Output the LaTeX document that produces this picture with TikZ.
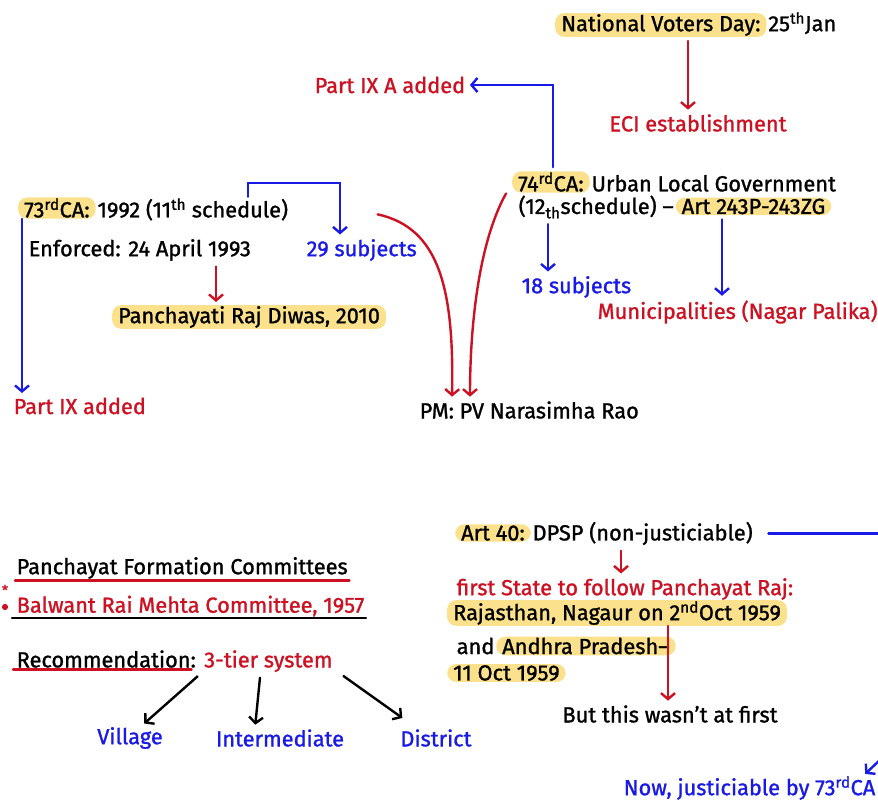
\documentclass[tikz,border=0pt]{standalone}
\usepackage{fontspec}
\setmainfont{Fira Sans}[FakeBold=1.2]
\usetikzlibrary{arrows.meta}

\definecolor{markred}{HTML}{CC1122}
\definecolor{markblue}{HTML}{1A1AE6}
\definecolor{markyellow}{HTML}{FBE18C}
\tikzstyle{note-text}=[inner sep=1.5pt, font=\fontsize{21.8}{24}\selectfont]
\tikzstyle{note-hilite}=[note-text, fill=markyellow, rounded corners=9pt, inner xsep=6pt, inner ysep=1pt]
\tikzstyle{red-line}=[draw=markred, line width=2.4pt, line cap=round]
\tikzstyle{blue-line}=[draw=markblue, line width=2.4pt, line cap=round]
\tikzstyle{black-line}=[draw=black, line width=2.4pt, line cap=round]
\tikzstyle{red-arrow}=[red-line, -{Straight Barb[length=6pt,width=14pt]}, shorten <=4pt, shorten >=3pt]
\tikzstyle{blue-arrow}=[blue-line, -{Straight Barb[length=6pt,width=14pt]}, shorten <=4pt, shorten >=3pt]
\tikzstyle{black-arrow}=[black-line, -{Straight Barb[length=6pt,width=14pt]}, shorten <=4pt, shorten >=3pt]

\begin{document}
\begin{tikzpicture}[x=1pt, y=-1pt]
      \useasboundingbox (0,0) rectangle (878,803);
      \fill[white] (0,0) rectangle (878,803);
      \clip (0,0) rectangle (878,803);

      \node (voters) at (555,25) [note-hilite, anchor=west] {National Voters Day:};
      \node (votersdate) at (voters.base east) [note-text, anchor=base west] {25\textsuperscript{th}Jan};
      \node (eci) at (698,123) [note-text, text=markred] {ECI establishment};
      \coordinate (eciin) at ([xshift=-10pt]eci.north);
      \draw[red-arrow] (eciin |- voters.south) -- (eciin);

      \node (ca74) at (512,182) [note-hilite, anchor=west] {74\textsuperscript{rd}CA:};
      \node (urban) at (ca74.base east) [note-text, anchor=base west] {Urban Local Government};
      \node (sched12) at (517,207) [note-text, anchor=west] {(12\textsubscript{th}schedule) –};
      \node (art243) at (sched12.base east) [note-hilite, anchor=base west] {Art 243P-243ZG};
      \node (part9a) at (313,85) [note-text, anchor=west, text=markred] {Part IX A added};
      \draw[blue-arrow] ([xshift=41pt]ca74.north west) |- (part9a.east);
      \node (subj18) at (520,287) [note-text, anchor=west, text=markblue] {18 subjects};
      \coordinate (subj18in) at ([xshift=28pt]subj18.north west);
      \draw[blue-arrow] (subj18in |- sched12.south) -- (subj18in);
      \node (munic) at (596,312) [note-text, anchor=west, text=markred] {Municipalities (Nagar Palika)};
      \coordinate (municin) at ([xshift=126pt]munic.north west);
      \draw[blue-arrow] (municin |- art243.south) -- (municin);

      \node (ca73) at (18,208) [note-hilite, anchor=west] {73\textsuperscript{rd}CA:};
      \node (year92) at (ca73.base east) [note-text, anchor=base west] {1992 (11\textsuperscript{th} schedule)};
      \node (enforced) at (27,250) [note-text, anchor=west] {Enforced: 24 April 1993};
      \node (subj29) at (305,250) [note-text, anchor=west, text=markblue] {29 subjects};
      \coordinate (subj29in) at ([xshift=35pt]subj29.north west);
      \draw[blue-arrow, shorten <=0pt] ([xshift=55pt]year92.north) -- ++(0,-14) -| (subj29in);
      \node (diwas) at (112,317) [note-hilite, anchor=west] {Panchayati Raj Diwas, 2010};
      \coordinate (diwasin) at ([xshift=104pt]diwas.north west);
      \draw[red-arrow] (diwasin |- enforced.south) -- (diwasin);
      \node (part9) at (12,406) [note-text, anchor=west, text=markred] {Part IX added};
      \coordinate (part9in) at ([xshift=10pt]part9.north west);
      \draw[blue-arrow, shorten <=0pt] (part9in |- ca73.south) -- (part9in);

      \node (pm) at (418,410) [note-text, anchor=west] {PM: PV Narasimha Rao};
      \draw[red-arrow] ([xshift=12pt, yshift=24pt]subj29.north) .. controls (440,228) and (454,290) .. ([xshift=34pt]pm.north west);
      \draw[red-arrow] ([xshift=-4pt, yshift=-8pt]ca74.west) .. controls (480,240) and (470,320) .. ([xshift=52pt]pm.north west);

      \node (formation) at (15,568) [note-text, anchor=west] {Panchayat Formation Committees};
      \draw[red-line] (formation.south west) -- (formation.south east);
      \node (star) at (5,590) [font=\fontsize{14}{14}\selectfont, inner sep=0pt, text=markred] {*};
      \node (dot) at (5,607) [circle, fill=markred, inner sep=2.2pt] {};
      \node (balwant) at (15,606) [note-text, anchor=west, text=markred] {Balwant Rai Mehta Committee, 1957};
      \draw[black-line] ([xshift=-3pt]balwant.south west) -- (balwant.south east);
      \node (recommend) at (15,659) [note-text, anchor=west] {Recommendation:};
      \node (tier) at ([xshift=5pt]recommend.base east) [note-text, anchor=base west, text=markred] {3-tier system};
      \draw[red-line] ([xshift=-2pt]recommend.south west) -- ([xshift=-6pt]recommend.south east);

      \node (village) at (130,738) [note-text, text=markblue] {Village};
      \node (intermediate) at (280,738) [note-text, text=markblue] {Intermediate};
      \node (district) at (436,738) [note-text, text=markblue] {District};
      \draw[black-arrow] ([xshift=-2pt]tier.south west) -- ([xshift=12pt]village.north);
      \draw[black-arrow] ([xshift=-8pt]tier.south) -- ([xshift=-25pt]intermediate.north);
      \draw[black-arrow] ([xshift=6pt]tier.south east) -- ([xshift=6pt, yshift=8pt]district.north west);

      \node (art40) at (455,533) [note-hilite, anchor=west] {Art 40:};
      \node (dpsp) at (art40.base east) [note-text, anchor=base west] {DPSP (non-justiciable)};
      \coordinate (edge40) at (878,533);
      \draw[blue-line, shorten <=14pt] (dpsp.east) -- (edge40 |- dpsp.east);
      \node (firststate) at (455,589) [note-text, anchor=west, text=markred] {first State to follow Panchayat Raj:};
      \coordinate (firststatein) at ([xshift=166pt]firststate.north west);
      \draw[red-arrow] (firststatein |- dpsp.south) -- (firststatein);
      \node (rajasthan) at (447,613) [note-hilite, anchor=west] {Rajasthan, Nagaur on 2\textsuperscript{nd}Oct 1959};
      \node (andhraand) at (455,646) [note-text, anchor=west] {and};
      \node (andhra) at (andhraand.base east) [note-hilite, anchor=base west] {Andhra Pradesh–};
      \node (oct11) at (447,673) [note-hilite, anchor=west] {11 Oct 1959};
      \node (wasnt) at (670,714) [note-text] {But this wasn't at first};
      \coordinate (wasntin) at ([xshift=-2pt]wasnt.north);
      \draw[red-arrow, shorten <=0pt] (wasntin |- rajasthan.south) -- (wasntin);

      \node (nowjust) at (622,788) [note-text, anchor=west, text=markblue] {Now, justiciable by 73\textsuperscript{rd}CA};
      \coordinate (cornerin) at (882,758);
      \draw[blue-arrow, shorten <=0pt] (cornerin) -- (863,776);
    \end{tikzpicture}
\end{document}
